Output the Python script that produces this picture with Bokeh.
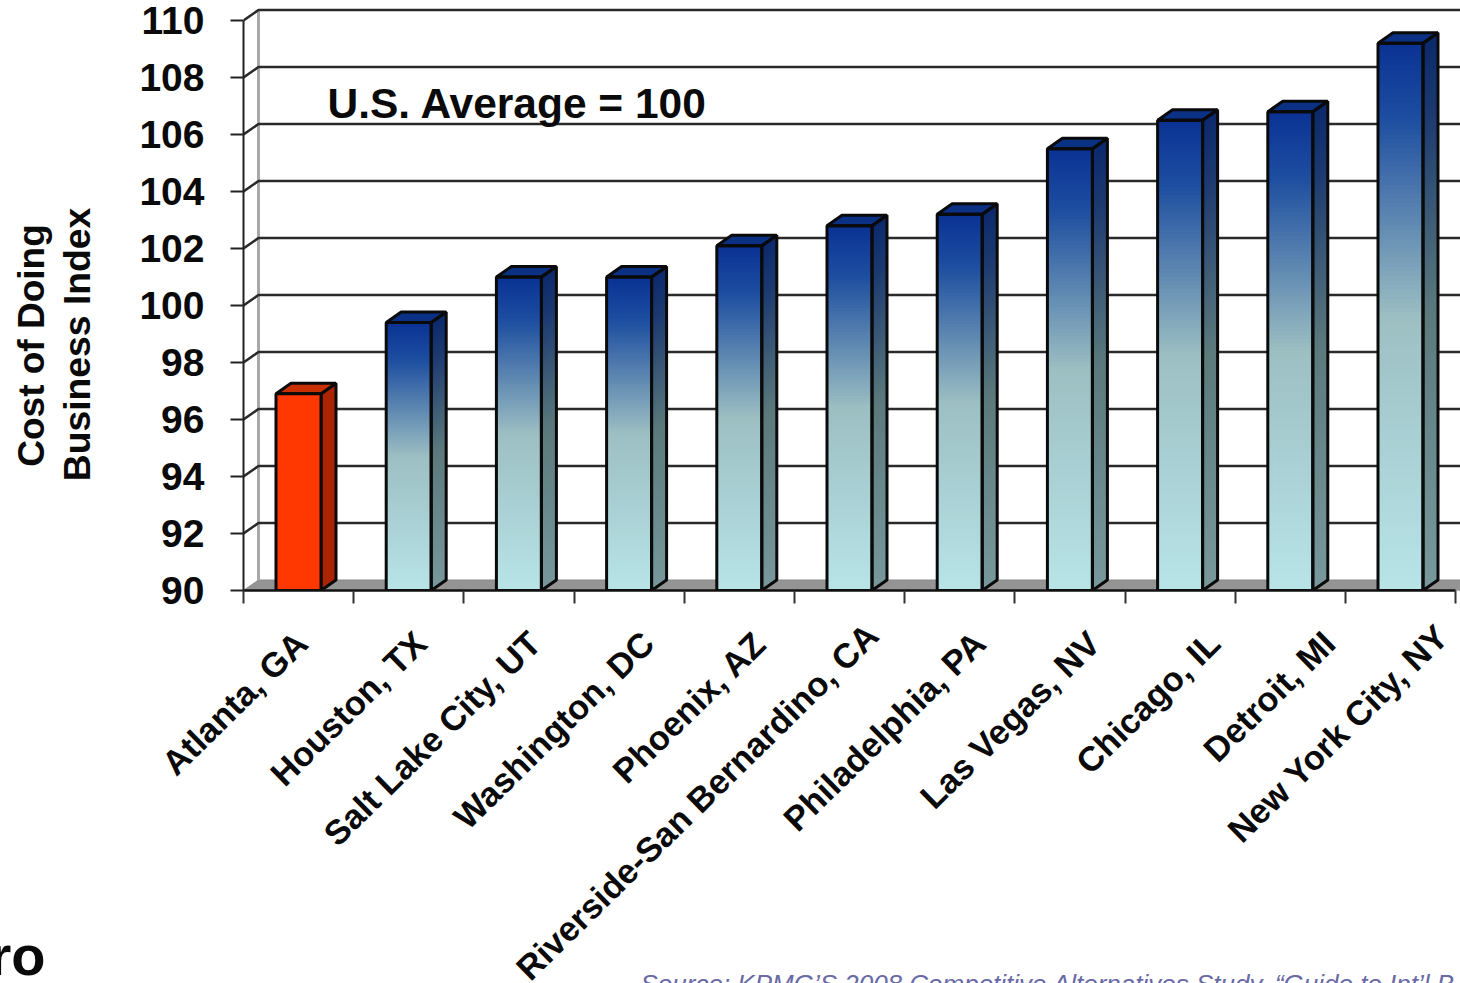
from bokeh.plotting import figure
from bokeh.models import Range1d, LinearAxis, FixedTicker
from bokeh.core.properties import value
from bokeh.embed import file_html
from bokeh.resources import INLINE

cities = ["Atlanta, GA", "Houston, TX", "Salt Lake City, UT", "Washington, DC", "Phoenix, AZ",
          "Riverside-San Bernardino, CA", "Philadelphia, PA", "Las Vegas, NV", "Chicago, IL",
          "Detroit, MI", "New York City, NY"]
index_values = [96.9, 99.4, 101.0, 101.0, 102.1, 102.8, 103.2, 105.5, 106.5, 106.8, 109.2]
y_ticks = list(range(90, 112, 2))
label_dx = [3, 12, 16, 19, 21, 23, 20, 24, 34, 39, 42]
label_dy = [47, 47, 47, 47, 47, 39, 47, 47, 47, 47, 40]

W, H = 1460, 983
FONT = "Liberation Sans"
PX_X = 110.2
PX_Y = 28.5
FRAME_L, FRAME_B = 243, 590
DX = 15 / PX_X
DY = 10.5 / PX_Y
BAR_L = (275.5 - 243) / PX_X
BAR_W = 45 / PX_X
X_MAX = (W - FRAME_L) / PX_X
Y_MAX = 110 + 20 / PX_Y


def mix(stops, t):
    for (t0, c0), (t1, c1) in zip(stops, stops[1:]):
        if t <= t1:
            f = (t - t0) / (t1 - t0)
            return "#%02x%02x%02x" % tuple(round(a + (b - a) * f) for a, b in zip(c0, c1))
    return "#%02x%02x%02x" % stops[-1][1]


FRONT = [(0, (10, 50, 148)), (0.14, (30, 78, 160)), (0.5, (156, 191, 194)), (1, (184, 228, 232))]
SIDE = [(0, (12, 42, 108)), (0.14, (28, 58, 112)), (0.5, (92, 122, 124)), (1, (120, 152, 156))]
STEPS = 120

p = figure(width=W, height=H, output_backend="svg", toolbar_location=None,
           x_range=Range1d(0, X_MAX), y_range=Range1d(90, Y_MAX),
           x_axis_type=None, y_axis_type=None, outline_line_color=None,
           min_border_left=FRAME_L, min_border_right=0, min_border_top=0,
           min_border_bottom=H - FRAME_B, background_fill_color="white")
p.grid.visible = False

# floor, back wall and gridlines
p.patch([0, DX, X_MAX + 1, X_MAX + 1, 11], [90, 90 + DY, 90 + DY, 90, 90],
        fill_color="#949494", line_color="#8a8a8a", line_width=1)
p.segment([DX], [90 + DY], [DX], [110 + DY], line_color="#a8a8a8", line_width=3)
p.multi_line([[0, DX, X_MAX + 1] for _ in y_ticks[1:]],
             [[v, v + DY, v + DY] for v in y_ticks[1:]],
             line_color="#2a2a2a", line_width=2.5)

# bars
for i, v in enumerate(index_values):
    l = i + BAR_L
    r = l + BAR_W
    if i == 0:
        p.patch([r, r + DX, r + DX, r], [90, 90 + DY, v + DY, v], fill_color="#ab2400",
                line_color="#0a0a0a", line_width=3)
        p.patch([l, r, r + DX, l + DX], [v, v, v + DY, v + DY], fill_color="#c93000",
                line_color="#0a0a0a", line_width=3)
        p.quad(left=[l], right=[r], bottom=[90], top=[v], fill_color="#ff3700",
               line_color="#0a0a0a", line_width=3)
        continue
    span = v - 90
    tops = [v - span * k / STEPS for k in range(STEPS)]
    ts = [(k + 0.5) / STEPS for k in range(STEPS)]
    p.patches([[r, r + DX, r + DX, r] for _ in tops],
              [[90, 90 + DY, t + DY, t] for t in tops],
              fill_color=[mix(SIDE, t) for t in ts], line_color=None)
    p.quad(left=[l] * STEPS, right=[r] * STEPS, bottom=[90] * STEPS, top=tops,
           fill_color=[mix(FRONT, t) for t in ts], line_color=None)
    p.patch([l, r, r + DX, l + DX], [v, v, v + DY, v + DY], fill_color="#0b3185",
            line_color="#0a0a0a", line_width=3)
    p.patch([r, r + DX, r + DX, r], [90, 90 + DY, v + DY, v], fill_color=None,
            line_color="#0a0a0a", line_width=3)
    p.quad(left=[l], right=[r], bottom=[90], top=[v], fill_color=None,
           line_color="#0a0a0a", line_width=3)

# axes
y_axis = LinearAxis(ticker=FixedTicker(ticks=y_ticks), bounds=(90, 110))
y_axis.axis_line_color = "#222222"
y_axis.axis_line_width = 2
y_axis.major_tick_line_color = "#222222"
y_axis.major_tick_line_width = 2
y_axis.major_tick_out = 13
y_axis.major_tick_in = 0
y_axis.minor_tick_line_color = None
y_axis.major_label_standoff = 26
y_axis.major_label_text_font = FONT
y_axis.major_label_text_font_style = "bold"
y_axis.major_label_text_font_size = "39px"
y_axis.major_label_text_color = "#0a0a0a"
p.add_layout(y_axis, "left")

x_axis = LinearAxis(ticker=FixedTicker(ticks=list(range(12))), bounds=(0, 11))
x_axis.major_label_overrides = {i: "" for i in range(12)}
x_axis.axis_line_color = "#111111"
x_axis.axis_line_width = 2.5
x_axis.major_tick_line_color = "#333333"
x_axis.major_tick_line_width = 2
x_axis.major_tick_out = 13
x_axis.major_tick_in = 0
x_axis.minor_tick_line_color = None
p.add_layout(x_axis, "below")

p.text(x=[i + BAR_L + BAR_W / 2 for i in range(len(cities))], y=[90] * len(cities), text=cities,
       x_offset=label_dx, y_offset=label_dy, angle=44.5, angle_units="deg", text_align="right",
       text_baseline="middle", text_font=value(FONT), text_font_style="bold",
       text_font_size="34.4px", text_color="#0a0a0a", level="annotation")


def add_text(text, px, py, size, color="#0a0a0a", style="bold", align="left", base="alphabetic", angle=0):
    p.text(x=[(px - FRAME_L) / PX_X], y=[90 + (FRAME_B - py) / PX_Y], text=[text],
           text_font=value(FONT), text_font_style=style, text_font_size=size,
           text_color=color, text_align=align, text_baseline=base,
           angle=angle, angle_units="deg", level="annotation")


add_text("U.S. Average = 100", 327, 103, "42.5px")
add_text("Cost of Doing", 31, 345, "37px", align="center", base="middle", angle=90)
add_text("Business Index", 76, 344, "37.3px", align="center", base="middle", angle=90)
add_text("ro", -11, 955, "56px")
add_text("Source: KPMG’S 2008 Competitive Alternatives Study, “Guide to Int’l B", 640, 983.5, "26px",
         color="#6a6aa6", style="italic")

open("out.html", "w").write(file_html(p, INLINE))
